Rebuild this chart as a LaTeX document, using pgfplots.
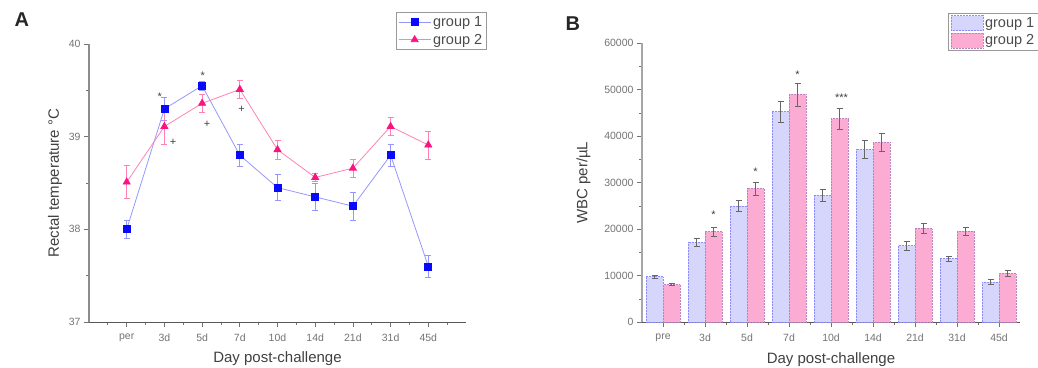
\documentclass[border=0pt]{standalone}
\usepackage{pgfplots}
\pgfplotsset{compat=1.18}
\usepackage{fontspec}
\setmainfont{Liberation Sans}
\definecolor{gone}{RGB}{10,10,250}
\definecolor{gonel}{RGB}{150,150,255}
\definecolor{gtwo}{RGB}{250,20,130}
\definecolor{gtwol}{RGB}{255,130,180}
\definecolor{barone}{RGB}{214,214,252}
\definecolor{bartwo}{RGB}{252,172,210}
\pgfplotsset{
  barleg/.style={legend image code/.code={\draw[##1] (0pt,-7.5pt) rectangle (32pt,7.5pt);}},
  lineleg/.style={legend image code/.code={\draw[mark repeat=2,mark phase=2,##1] plot coordinates {(0pt,0pt) (16pt,0pt) (32pt,0pt)};}},
  common/.style={
    scale only axis, anchor=south west,
    axis x line=bottom, axis y line=left, axis line style={-},
    tick align=outside, major tick length=5pt, minor tick length=3pt,
    every tick/.style={black!55, line width=0.8pt},
    tick label style={font=\fontsize{10.5}{11}\selectfont, text=black!55},
    xticklabel style={yshift=-3pt},
    /pgf/number format/assume math mode=true,
    label style={font=\fontsize{15}{16}\selectfont, text=black!75},
    legend cell align=left,
    legend style={font=\fontsize{14.5}{14.5}\selectfont, text=black!70, draw=black!40, line width=0.8pt, inner xsep=2pt, inner ysep=2pt, row sep=2pt},
    clip=false,
  }
}
\begin{document}
\begin{tikzpicture}[x=1pt,y=1pt]
\useasboundingbox (0,0) rectangle (1038,367);
\node[anchor=base west,font=\bfseries\fontsize{20}{20}\selectfont,text=black!85] at (11,340) {A};
\node[anchor=base west,font=\bfseries\fontsize{20}{20}\selectfont,text=black!85] at (562,336) {B};
\begin{axis}[common,
  at={(89pt,45pt)}, width=377pt, height=278pt,
  xmin=0, xmax=10, ymin=37, ymax=40,
  x axis line style={draw=black!65, line width=1pt},
  y axis line style={draw=black!45, line width=1.2pt},
  xtick={1,...,9}, xticklabels={per,3d,5d,7d,10d,14d,21d,31d,45d},
  minor xtick={0.5,1.5,...,9.5},
  ytick={37,38,39,40}, minor ytick={37.5,38.5,39.5},
  xlabel={Day post-challenge}, ylabel={Rectal temperature °C},
  xlabel style={at={(axis description cs:0.5,-0.133)}, anchor=center},
  ylabel style={at={(axis description cs:-0.09,0.5)}, anchor=center},
  legend style={at={(0.814,1.115)}, anchor=north west},
]
\addplot[lineleg, color=gonel, line width=0.8pt, mark=square*, mark size=3.5pt,
  mark options={fill=gone, draw=gone, solid},
  error bars/.cd, y dir=both, y explicit,
  error bar style={color=gonel, line width=0.7pt},
  error mark options={rotate=90, mark size=3pt, color=gonel, line width=0.7pt}]
coordinates {
(1,38.00) +- (0,0.10)
(2,39.30) +- (0,0.12)
(3,39.55) +- (0,0.05)
(4,38.80) +- (0,0.12)
(5,38.45) +- (0,0.14)
(6,38.35) +- (0,0.15)
(7,38.25) +- (0,0.15)
(8,38.80) +- (0,0.12)
(9,37.60) +- (0,0.12)
};
\addlegendentry{group 1}
\addplot[lineleg, color=gtwol, line width=0.8pt, mark=triangle*, mark size=4pt,
  mark options={fill=gtwo, draw=gtwo, solid},
  error bars/.cd, y dir=both, y explicit,
  error bar style={color=gtwol, line width=0.7pt},
  error mark options={rotate=90, mark size=3pt, color=gtwol, line width=0.7pt}]
coordinates {
(1,38.51) +- (0,0.18)
(2,39.11) +- (0,0.19)
(3,39.36) +- (0,0.10)
(4,39.51) +- (0,0.10)
(5,38.86) +- (0,0.10)
(6,38.56) +- (0,0.04)
(7,38.66) +- (0,0.10)
(8,39.11) +- (0,0.10)
(9,38.91) +- (0,0.15)
};
\addlegendentry{group 2}
\node[font=\fontsize{11}{11}\selectfont, text=black!75] at (axis cs:1.88,39.43) {*};
\node[font=\fontsize{11}{11}\selectfont, text=black!75] at (axis cs:3.02,39.66) {*};
\node[font=\fontsize{11}{11}\selectfont, text=black!75] at (axis cs:2.23,38.94) {+};
\node[font=\fontsize{11}{11}\selectfont, text=black!75] at (axis cs:3.13,39.13) {+};
\node[font=\fontsize{11}{11}\selectfont, text=black!75] at (axis cs:4.05,39.29) {+};
\end{axis}

\begin{axis}[common,
  at={(642pt,44.7pt)}, width=378pt, height=279pt,
  xmin=0.5, xmax=9.5, ymin=0, ymax=60000,
  ybar=0pt, bar width=17pt,
  x axis line style={draw=black!65, line width=1pt},
  y axis line style={draw=black!35, line width=2.5pt},
  xtick={1,...,9}, xticklabels={pre,3d,5d,7d,10d,14d,21d,31d,45d},
  minor xtick={1.5,2.5,...,8.5},
  ytick={0,10000,...,60000}, minor ytick={5000,15000,...,55000},
  scaled y ticks=false,
  yticklabel style={/pgf/number format/.cd, fixed, set thousands separator={}},
  xlabel={Day post-challenge}, ylabel={WBC per/µL},
  xlabel style={at={(axis description cs:0.5,-0.133)}, anchor=center},
  ylabel style={at={(axis description cs:-0.155,0.5)}, anchor=center},
  legend style={at={(0.81,1.109)}, anchor=north west},
]
\addplot[barleg, fill=barone, draw=blue!45, densely dotted, line width=0.5pt,
  error bars/.cd, y dir=both, y explicit,
  error bar style={color=black!60, line width=0.5pt, solid},
  error mark options={rotate=90, mark size=3pt, color=black!60, line width=0.5pt, solid}]
coordinates {
(1,9800) +- (0,400)
(2,17200) +- (0,900)
(3,25000) +- (0,1200)
(4,45300) +- (0,2300)
(5,27300) +- (0,1300)
(6,37200) +- (0,2000)
(7,16500) +- (0,900)
(8,13700) +- (0,600)
(9,8700) +- (0,500)
};
\addlegendentry{group 1}
\addplot[barleg, fill=bartwo, draw=red!50!blue!50, densely dotted, line width=0.5pt,
  error bars/.cd, y dir=both, y explicit,
  error bar style={color=black!60, line width=0.5pt, solid},
  error mark options={rotate=90, mark size=3pt, color=black!60, line width=0.5pt, solid}]
coordinates {
(1,8100) +- (0,200)
(2,19500) +- (0,1000)
(3,28800) +- (0,1400)
(4,49000) +- (0,2500)
(5,43800) +- (0,2200)
(6,38700) +- (0,1900)
(7,20200) +- (0,1000)
(8,19600) +- (0,900)
(9,10500) +- (0,600)
};
\addlegendentry{group 2}
\node[font=\fontsize{11}{11}\selectfont, text=black!75] at (axis cs:2.2,23200) {*};
\node[font=\fontsize{11}{11}\selectfont, text=black!75] at (axis cs:3.2,32300) {*};
\node[font=\fontsize{11}{11}\selectfont, text=black!75] at (axis cs:4.2,53300) {*};
\node[font=\fontsize{11}{11}\selectfont, text=black!75] at (axis cs:5.25,48300) {***};
\end{axis}
\end{tikzpicture}
\end{document}
